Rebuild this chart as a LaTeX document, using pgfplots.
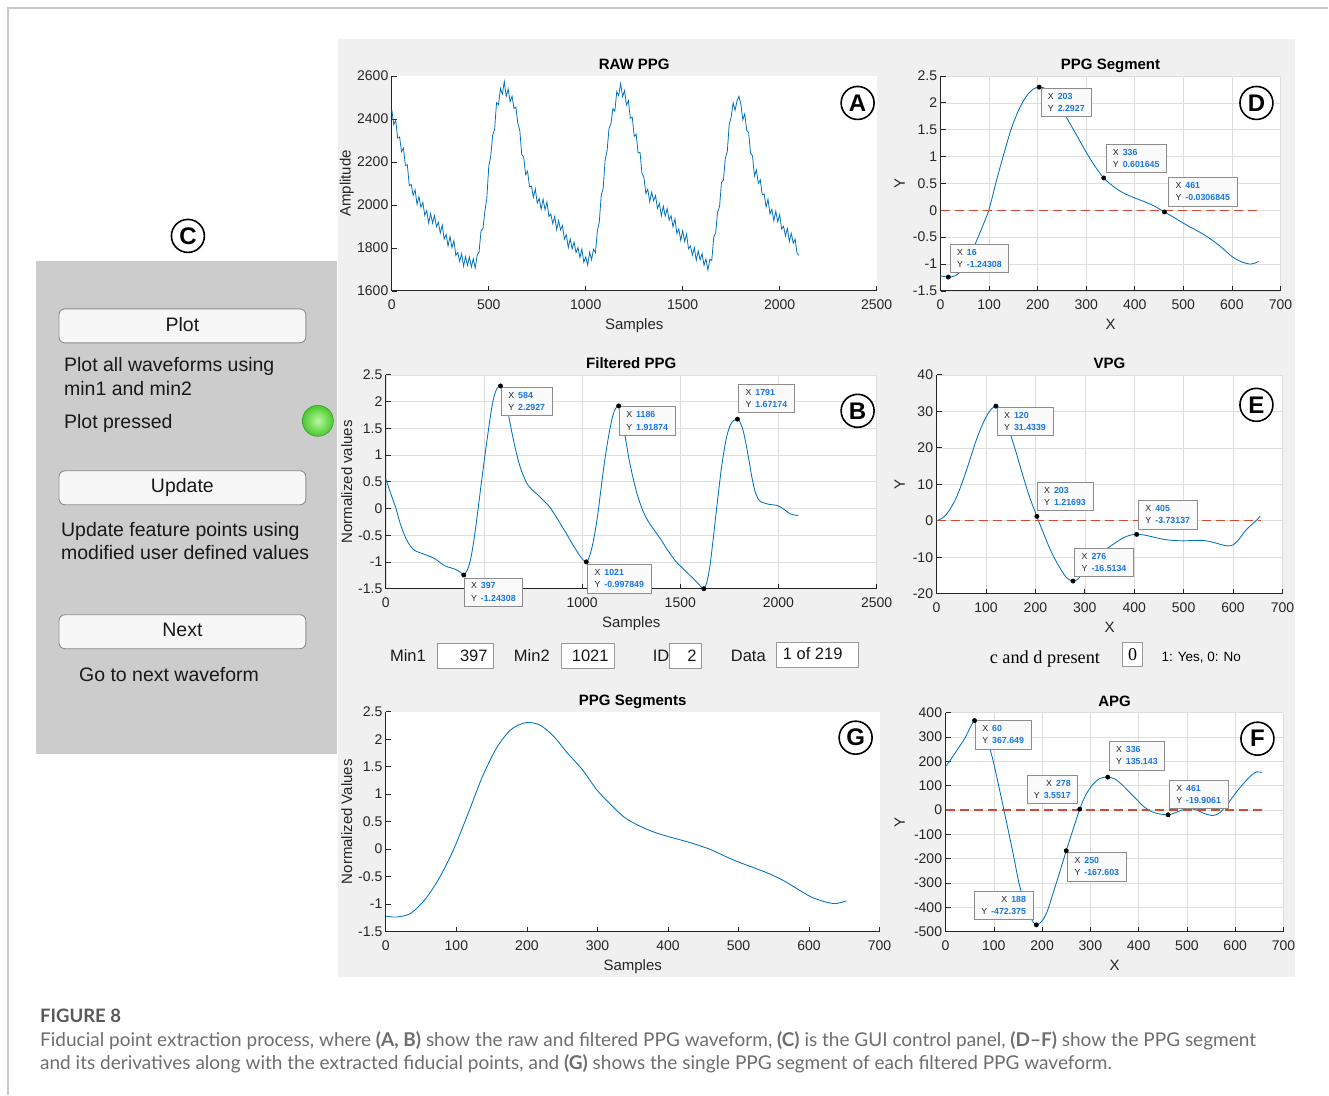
\documentclass[border=0pt]{standalone}
\usepackage{pgfplots}
\pgfplotsset{compat=1.18}
\usepackage{fontspec}
\setmainfont{Liberation Sans}
\newfontfamily\tmsfont{Liberation Serif}
\newfontfamily\capfont{Lato}
\definecolor{mblue}{RGB}{0,114,189}
\definecolor{tipblue}{RGB}{25,118,225}
\definecolor{figbg}{RGB}{240,240,240}
\definecolor{panelgray}{RGB}{204,204,204}
\definecolor{axcol}{RGB}{38,38,38}
\definecolor{zred}{RGB}{214,72,52}
\definecolor{capgray}{RGB}{110,110,110}
\definecolor{btnedge}{RGB}{140,140,140}
\pgfplotsset{
  mlab/.style={
    scale only axis, anchor=south west, clip=false,
    axis background/.style={fill=white},
    axis lines*=left,
    axis line style={-, draw=axcol, line width=0.8pt},
    tick align=inside, major tick length=5pt,
    tick style={draw=axcol, line width=0.7pt},
    scaled ticks=false,
    /pgf/number format/assume math mode=true,
    /pgf/number format/1000 sep={},
    ticklabel style={font=\fontsize{14}{14}\selectfont, text=axcol},
    xticklabel style={anchor=base, yshift=-19pt},
    title style={font=\bfseries\fontsize{15}{15}\selectfont, at={(axis description cs:0.5,1)}, anchor=base, inner sep=0pt, yshift=0pt},
    label style={font=\fontsize{15}{15}\selectfont, text=axcol},
    xlabel style={at={(axis description cs:0.5,0)}, anchor=base, inner sep=0pt, yshift=-38.5pt},
    ylabel style={anchor=center, inner sep=0pt},
    grid style={draw=black!13, line width=0.6pt},
  },
  curve/.style={draw=mblue, line width=0.85pt, no marks},
  zline/.style={draw=zred, line width=1.3pt, dash pattern=on 9pt off 5pt, no marks},
  dots/.style={only marks, mark=*, mark size=2.2pt, black},
}
\tikzset{tip/.style={draw=black!45, fill=black!2, line width=0.6pt, inner xsep=7pt, inner ysep=5pt, align=left, anchor=north west, font=\fontsize{8.8}{12.3}\selectfont, text=axcol}}
\newcommand\tv[1]{\hspace{4pt}\textcolor{tipblue}{\bfseries #1}}
\begin{document}
\begin{tikzpicture}
\begin{scope}[x=1pt,y=-1pt]
\fill[white] (0,0) rectangle (1329,1095);
\draw[black!22, line width=1.2pt] (8,1095) -- (8,8) -- (1329,8);
\fill[figbg] (338,39) rectangle (1296,977);
\fill[panelgray] (36,261) rectangle (337,754);
\end{scope}

% ---------- A: RAW PPG ----------
\begin{axis}[mlab, at={(392pt,-291pt)}, width=485pt, height=215pt,
  xmin=0, xmax=2500, ymin=1600, ymax=2600,
  xtick={0,500,1000,1500,2000,2500}, ytick={1600,1800,2000,2200,2400,2600},
  title={RAW PPG}, xlabel={Samples}, ylabel={Amplitude},
  ylabel style={at={(axis description cs:-0.0928,0.5)}}]
\addplot[curve, line width=0.8pt] coordinates {
(0,2442) (10,2374) (20,2394) (30,2311) (40,2316) (50,2248) (60,2264) (70,2183) (80,2187) (90,2090)
(100,2095) (110,2044) (120,2070) (130,2003) (140,2038) (150,1989) (160,2012) (170,1951) (180,1974) (190,1916)
(200,1960) (210,1915) (220,1951) (230,1898) (240,1919) (250,1869) (260,1906) (270,1841) (280,1863) (290,1809)
(300,1853) (310,1801) (320,1834) (330,1765) (340,1779) (350,1737) (360,1773) (370,1715) (380,1759) (390,1719)
(400,1757) (410,1711) (420,1749) (430,1706) (440,1765) (450,1782) (460,1880) (470,1889) (480,1972) (490,2032)
(500,2180) (510,2225) (520,2325) (530,2351) (540,2476) (550,2467) (560,2542) (570,2516) (580,2574) (590,2505)
(600,2539) (610,2480) (620,2506) (630,2449) (640,2455) (650,2378) (660,2346) (670,2234) (680,2223) (690,2141)
(700,2157) (710,2085) (720,2087) (730,2036) (740,2074) (750,2008) (760,2030) (770,1980) (780,2027) (790,1978)
(800,2014) (810,1946) (820,1957) (830,1913) (840,1946) (850,1885) (860,1927) (870,1884) (880,1904) (890,1841)
(900,1861) (910,1801) (920,1842) (930,1795) (940,1827) (950,1778) (960,1802) (970,1755) (980,1795) (990,1733)
(1000,1758) (1010,1720) (1020,1780) (1030,1745) (1040,1794) (1050,1778) (1060,1878) (1070,1922) (1080,2046) (1090,2077)
(1100,2209) (1110,2251) (1120,2356) (1130,2378) (1140,2448) (1150,2436) (1160,2527) (1170,2509) (1180,2564) (1190,2504)
(1200,2532) (1210,2465) (1220,2485) (1230,2403) (1240,2408) (1250,2319) (1260,2329) (1270,2242) (1280,2244) (1290,2146)
(1300,2128) (1310,2053) (1320,2073) (1330,2015) (1340,2059) (1350,2019) (1360,2043) (1370,1983) (1380,2007) (1390,1950)
(1400,1994) (1410,1948) (1420,1983) (1430,1929) (1440,1950) (1450,1898) (1460,1935) (1470,1867) (1480,1888) (1490,1835)
(1500,1880) (1510,1830) (1520,1864) (1530,1796) (1540,1809) (1550,1766) (1560,1801) (1570,1742) (1580,1785) (1590,1744)
(1600,1773) (1610,1719) (1620,1748) (1630,1697) (1640,1747) (1650,1742) (1660,1850) (1670,1870) (1680,1967) (1690,1992)
(1700,2105) (1710,2115) (1720,2218) (1730,2248) (1740,2376) (1750,2408) (1760,2475) (1770,2440) (1780,2484) (1790,2505)
(1800,2469) (1810,2396) (1820,2424) (1830,2348) (1840,2336) (1850,2240) (1860,2228) (1870,2135) (1880,2162) (1890,2100)
(1900,2117) (1910,2047) (1920,2051) (1930,1991) (1940,2026) (1950,1958) (1960,1979) (1970,1926) (1980,1971) (1990,1921)
(2000,1955) (2010,1888) (2020,1900) (2030,1856) (2040,1890) (2050,1830) (2060,1868) (2070,1822) (2080,1840) (2090,1774)
(2100,1765)};
\end{axis}

% ---------- D: PPG Segment ----------
\begin{axis}[mlab, at={(941pt,-291pt)}, width=340pt, height=215pt,
  xmin=0, xmax=700, ymin=-1.5, ymax=2.5, grid=major,
  xtick={0,100,200,300,400,500,600,700}, ytick={-1.5,-1,-0.5,0,0.5,1,1.5,2,2.5},
  title={PPG Segment}, xlabel={X}, ylabel={Y},
  ylabel style={at={(axis description cs:-0.1206,0.5)}}]
\addplot[curve, smooth] coordinates {
(0,-1.22) (8,-1.235) (16,-1.243) (30,-1.22) (45,-1.10) (60,-0.86) (75,-0.55) (90,-0.22) (100,0.02)
(115,0.55) (130,1.04) (145,1.50) (160,1.85) (175,2.10) (190,2.25) (203,2.2927) (215,2.27) (230,2.16)
(245,1.96) (260,1.72) (280,1.40) (300,1.08) (318,0.82) (336,0.6016) (355,0.45) (375,0.33) (400,0.23)
(420,0.16) (440,0.08) (461,-0.0307) (480,-0.13) (500,-0.24) (520,-0.34) (540,-0.44) (560,-0.56)
(580,-0.70) (600,-0.86) (615,-0.94) (630,-0.99) (640,-1.00) (648,-0.98) (655,-0.95)};
\addplot[zline] coordinates {(0,0) (655,0)};
\addplot[dots] coordinates {(16,-1.24308) (203,2.2927) (336,0.601645) (461,-0.0306845)};
\node[tip] at (axis cs:19,-0.62) {X\tv{16}\\Y\tv{-1.24308}};
\node[tip] at (axis cs:206,2.28) {X\tv{203}\\Y\tv{2.2927}};
\node[tip] at (axis cs:340,1.24) {X\tv{336}\\Y\tv{0.601645}};
\node[tip] at (axis cs:469,0.62) {X\tv{461}\\Y\tv{-0.0306845}};
\end{axis}

% ---------- B: Filtered PPG ----------
\begin{axis}[mlab, at={(386pt,-589pt)}, width=491pt, height=214pt,
  xmin=0, xmax=2500, ymin=-1.5, ymax=2.5, grid=major,
  xtick={0,500,1000,1500,2000,2500}, xticklabels={0,,1000,1500,2000,2500},
  ytick={-1.5,-1,-0.5,0,0.5,1,1.5,2,2.5},
  title={Filtered PPG}, xlabel={Samples}, ylabel={Normalized values},
  ylabel style={at={(axis description cs:-0.0794,0.5)}}]
\addplot[curve, smooth] coordinates {
(0,0.55) (25,0.28) (50,0.02) (75,-0.30) (100,-0.54) (125,-0.70) (150,-0.79) (200,-0.86) (250,-0.94)
(300,-1.07) (350,-1.13) (380,-1.19) (397,-1.243) (415,-1.15) (430,-0.98) (445,-0.68) (460,-0.29)
(475,0.14) (490,0.58) (505,1.00) (520,1.40) (535,1.78) (550,2.08) (567,2.25) (584,2.2927) (597,2.22)
(610,2.05) (625,1.75) (640,1.46) (660,1.12) (680,0.83) (700,0.62) (720,0.46) (745,0.35) (770,0.27)
(800,0.16) (830,0.05) (860,-0.11) (890,-0.29) (920,-0.47) (950,-0.66) (975,-0.81) (1000,-0.94)
(1021,-0.998) (1035,-0.92) (1050,-0.73) (1065,-0.45) (1080,-0.10) (1095,0.34) (1110,0.77) (1125,1.14)
(1140,1.46) (1155,1.72) (1170,1.87) (1186,1.919) (1198,1.80) (1210,1.55) (1225,1.22) (1240,0.90)
(1260,0.56) (1280,0.27) (1305,0.00) (1330,-0.20) (1355,-0.34) (1380,-0.47) (1405,-0.60) (1430,-0.75)
(1455,-0.88) (1480,-1.00) (1505,-1.09) (1530,-1.18) (1555,-1.27) (1580,-1.36) (1600,-1.44) (1620,-1.50)
(1635,-1.38) (1650,-1.10) (1665,-0.65) (1680,-0.16) (1695,0.32) (1710,0.77) (1725,1.13) (1740,1.40)
(1755,1.56) (1770,1.64) (1791,1.672) (1805,1.61) (1820,1.46) (1835,1.20) (1850,0.90) (1865,0.58)
(1880,0.33) (1895,0.19) (1910,0.13) (1930,0.10) (1950,0.08) (1970,0.07) (1990,0.06) (2010,0.03)
(2030,-0.02) (2060,-0.10) (2080,-0.12) (2100,-0.13)};
\addplot[dots] coordinates {(397,-1.24308) (584,2.2927) (1021,-0.997849) (1186,1.91874) (1620,-1.5) (1791,1.67174)};
\node[tip] at (axis cs:587,2.28) {X\tv{584}\\Y\tv{2.2927}};
\node[tip] at (axis cs:1188,1.91) {X\tv{1186}\\Y\tv{1.91874}};
\node[tip] at (axis cs:1795,2.33) {X\tv{1791}\\Y\tv{1.67174}};
\node[tip] at (axis cs:397,-1.29) {X\tv{397}\\Y\tv{-1.24308}};
\node[tip] at (axis cs:1026,-1.04) {X\tv{1021}\\Y\tv{-0.997849}};
\end{axis}

% ---------- E: VPG ----------
\begin{axis}[mlab, at={(937pt,-594pt)}, width=346pt, height=219pt,
  xmin=0, xmax=700, ymin=-20, ymax=40, grid=major,
  xtick={0,100,200,300,400,500,600,700}, ytick={-20,-10,0,10,20,30,40},
  title={VPG}, xlabel={X}, ylabel={Y},
  ylabel style={at={(axis description cs:-0.1069,0.5)}}]
\addplot[curve, smooth] coordinates {
(0,0) (10,0.6) (20,1.8) (30,3.8) (40,6.4) (50,9.8) (60,13.7) (70,17.8) (80,22.0) (90,25.5) (100,28.4)
(110,30.5) (120,31.43) (130,30.5) (140,27.5) (150,23.5) (160,19.2) (170,14.5) (180,10.0) (190,5.8)
(203,1.22) (210,-1.3) (220,-4.6) (230,-7.9) (240,-10.6) (250,-13.0) (260,-15.1) (268,-16.1) (276,-16.51)
(285,-16.1) (300,-13.8) (315,-11.2) (330,-9.2) (345,-7.6) (360,-6.2) (375,-4.9) (390,-4.0) (405,-3.73)
(420,-3.9) (440,-4.5) (460,-5.1) (480,-5.4) (500,-5.5) (520,-5.4) (540,-5.4) (560,-5.9) (575,-6.5)
(590,-6.9) (600,-6.6) (610,-5.4) (620,-3.6) (630,-2.0) (640,-0.8) (648,0.2) (655,1.3)};
\addplot[zline] coordinates {(0,0) (656,0)};
\addplot[dots] coordinates {(120,31.4339) (203,1.21693) (276,-16.5134) (405,-3.73137)};
\node[tip] at (axis cs:122,31.3) {X\tv{120}\\Y\tv{31.4339}};
\node[tip] at (axis cs:203,10.7) {X\tv{203}\\Y\tv{1.21693}};
\node[tip] at (axis cs:279,-7.4) {X\tv{276}\\Y\tv{-16.5134}};
\node[tip] at (axis cs:408,5.65) {X\tv{405}\\Y\tv{-3.73137}};
\end{axis}

% ---------- G: PPG Segments ----------
\begin{axis}[mlab, at={(386pt,-932pt)}, width=494pt, height=220pt,
  xmin=0, xmax=700, ymin=-1.5, ymax=2.5,
  xtick={0,100,200,300,400,500,600,700}, ytick={-1.5,-1,-0.5,0,0.5,1,1.5,2,2.5},
  title={PPG Segments}, xlabel={Samples}, ylabel={Normalized Values},
  ylabel style={at={(axis description cs:-0.0789,0.5)}}]
\addplot[curve, smooth] coordinates {
(0,-1.22) (15,-1.235) (35,-1.17) (56,-0.91) (76,-0.52) (96,-0.01) (117,0.66) (137,1.32) (157,1.84)
(177,2.17) (198,2.30) (218,2.26) (238,2.05) (258,1.74) (279,1.44) (299,1.08) (319,0.81) (339,0.57)
(360,0.42) (380,0.31) (400,0.23) (420,0.16) (441,0.08) (461,-0.01) (481,-0.13) (501,-0.24) (522,-0.34)
(542,-0.44) (562,-0.56) (583,-0.72) (603,-0.87) (623,-0.96) (638,-0.99) (653,-0.94)};
\end{axis}

% ---------- F: APG ----------
\begin{axis}[mlab, at={(946pt,-932pt)}, width=338pt, height=219pt,
  xmin=0, xmax=700, ymin=-500, ymax=400, grid=major,
  xtick={0,100,200,300,400,500,600,700}, ytick={-500,-400,-300,-200,-100,0,100,200,300,400},
  title={APG}, xlabel={X}, ylabel={Y},
  ylabel style={at={(axis description cs:-0.1361,0.5)}}]
\addplot[curve, smooth] coordinates {
(0,179) (10,205) (20,235) (30,265) (40,295) (50,335) (60,367.6) (70,345) (80,300) (90,262) (100,190)
(120,8) (140,-180) (152,-300) (165,-390) (178,-450) (188,-472.4) (200,-456) (210,-420) (220,-360)
(235,-265) (250,-167.6) (265,-75) (278,3.55) (290,60) (305,105) (320,130) (336,135.1) (350,128)
(365,105) (380,75) (395,45) (410,15) (425,-5) (440,-15) (461,-19.9) (475,-12) (490,0) (505,6) (520,0)
(535,-14) (550,-22) (560,-20) (570,-8) (580,15) (590,40) (605,80) (620,115) (635,145) (645,157) (655,154)};
\addplot[zline] coordinates {(0,0) (657,0)};
\addplot[dots] coordinates {(60,367.649) (188,-472.375) (250,-167.603) (278,3.5517) (336,135.143) (461,-19.9061)};
\node[tip] at (axis cs:61,370) {X\tv{60}\\Y\tv{367.649}};
\node[tip, align=right] at (axis cs:59,-332) {X\tv{188}\\Y\tv{-472.375}};
\node[tip, align=right] at (axis cs:168,145) {X\tv{278}\\Y\tv{3.5517}};
\node[tip] at (axis cs:252,-173) {X\tv{250}\\Y\tv{-167.603}};
\node[tip] at (axis cs:338,283) {X\tv{336}\\Y\tv{135.143}};
\node[tip] at (axis cs:463,124) {X\tv{461}\\Y\tv{-19.9061}};
\end{axis}

\begin{scope}[x=1pt,y=-1pt]
% panel letters
\foreach \L/\px/\py in {A/858/103, D/1257/103, B/858/411, E/1257/405, G/856/738, F/1258/739, C/188/236}{
  \node[circle, draw=black, line width=1.6pt, fill=white, minimum size=33pt, inner sep=0pt,
        font=\bfseries\fontsize{24}{24}\selectfont] at (\px,\py) {\L};
}
% GUI panel
\tikzset{btn/.style={rounded corners=6pt, fill=black!3, draw=btnedge, line width=0.9pt}}
\draw[btn] (59,309) rectangle (306,343);
\draw[btn] (59,471) rectangle (306,505);
\draw[btn] (59,615) rectangle (306,649);
\tikzset{gui/.style={inner sep=0pt, font=\fontsize{19.5}{22}\selectfont, text=black!90}}
\node[gui, anchor=base] at (182.5,332) {Plot};
\node[gui, anchor=base] at (182.5,493) {Update};
\node[gui, anchor=base] at (182.5,637) {Next};
\node[gui, anchor=base west] at (64,372) {Plot all waveforms using};
\node[gui, anchor=base west] at (64,396) {min1 and min2};
\node[gui, anchor=base west] at (64,429) {Plot pressed};
\node[gui, anchor=base west] at (61,537) {Update feature points using};
\node[gui, anchor=base west] at (61,560) {modified user defined values};
\node[gui, anchor=base west] at (79,682) {Go to next waveform};
\shade[inner color={rgb,255:red,185;green,248;blue,160}, outer color={rgb,255:red,75;green,200;blue,45}] (318,421) circle (15.5);
\draw[black!35!green!70!gray, line width=0.5pt] (318,421) circle (15.5);
% fields under B
\tikzset{fld/.style={inner sep=0pt, font=\fontsize{16.5}{18}\selectfont, text=black!90},
         fbox/.style={fill=white, draw=black!40, line width=0.8pt}}
\draw[fbox] (438,644) rectangle (494,669);
\draw[fbox] (562,644) rectangle (615,669);
\draw[fbox] (670,644) rectangle (702,669);
\draw[fbox] (777,643) rectangle (859,668);
\node[fld, anchor=base west] at (390,662) {Min1};
\node[fld, anchor=base east] at (488,662) {397};
\node[fld, anchor=base west] at (514,662) {Min2};
\node[fld, anchor=base east] at (609,662) {1021};
\node[fld, anchor=base west] at (653,662) {ID};
\node[fld, anchor=base east] at (697,662) {2};
\node[fld, anchor=base west] at (731,662) {Data};
\node[fld, anchor=base west] at (783,660) {1 of 219};
% c and d present
\node[inner sep=0pt, anchor=base west, font=\tmsfont\fontsize{18.3}{20}\selectfont] at (990,664) {c and d present};
\draw[fbox] (1123,643) rectangle (1143,667);
\node[inner sep=0pt, anchor=base, font=\tmsfont\fontsize{18}{20}\selectfont] at (1133,661) {0};
\node[inner sep=0pt, anchor=base west, font=\fontsize{13.5}{15}\selectfont] at (1162,662) {1: Yes, 0: No};
% caption
\node[inner sep=0pt, anchor=base west, font=\capfont\bfseries\fontsize{18.5}{20}\selectfont, text=black!65] at (40,1023) {FIGURE 8};
\node[inner sep=0pt, anchor=base west, font=\capfont\fontsize{19}{20}\selectfont, text=capgray] at (40,1047) {Fiducial point extraction process, where \textbf{(A, B)} show the raw and filtered PPG waveform, \textbf{(C)} is the GUI control panel, \textbf{(D–F)} show the PPG segment};
\node[inner sep=0pt, anchor=base west, font=\capfont\fontsize{19}{20}\selectfont, text=capgray] at (40,1070) {and its derivatives along with the extracted fiducial points, and \textbf{(G)} shows the single PPG segment of each filtered PPG waveform.};
\end{scope}
\end{tikzpicture}
\end{document}
